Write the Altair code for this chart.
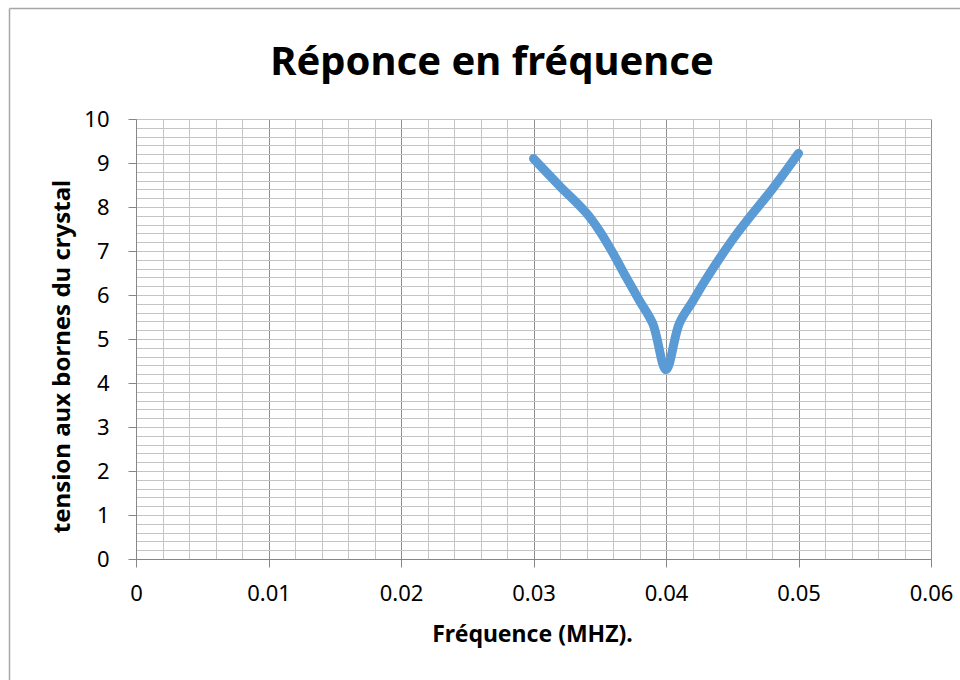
import altair as alt
import pandas as pd

# Data
freq = [0.030, 0.032, 0.034, 0.035, 0.036, 0.037, 0.038, 0.039, 0.040,
        0.041, 0.042, 0.043, 0.045, 0.046, 0.048, 0.050]
tension = [9.10, 8.47, 7.86, 7.45, 6.95, 6.40, 5.87, 5.35, 4.30,
           5.35, 5.85, 6.35, 7.25, 7.65, 8.40, 9.22]

major_x = [0, 0.01, 0.02, 0.03, 0.04, 0.05, 0.06]
major_y = [0, 1, 2, 3, 4, 5, 6, 7, 8, 9, 10]
minor_x = [round(i * 0.002, 4) for i in range(31)]
minor_y = [round(i * 0.2, 2) for i in range(51)]

title_text = ["Réponce en fréquence"]

df = pd.DataFrame({"f": freq, "v": tension})
one = pd.DataFrame({"a": [0]})
tdf = pd.DataFrame({"t": title_text})

xs = alt.Scale(domain=[0, 0.06], nice=False, zero=False)
ys = alt.Scale(domain=[0, 10], nice=False, zero=False)

FONT = "Noto Sans"
MINOR = "#c4c4c4"
MAJOR = "#8f8f8f"
AXIS = "#868686"

minor = alt.Chart(df).mark_line(opacity=0).encode(
    x=alt.X("f:Q", scale=xs, axis=alt.Axis(
        values=minor_x, grid=True, gridColor=MINOR, gridWidth=1,
        labels=False, ticks=False, domain=False, title=None, orient="top")),
    y=alt.Y("v:Q", scale=ys, axis=alt.Axis(
        values=minor_y, grid=True, gridColor=MINOR, gridWidth=1,
        labels=False, ticks=False, domain=False, title=None, orient="right")),
)

main = alt.Chart(df).mark_line(
    color="#5B9BD5", strokeWidth=9, interpolate="catmull-rom",
    strokeCap="round", strokeJoin="round"
).encode(
    x=alt.X("f:Q", scale=xs, axis=alt.Axis(
        values=major_x, grid=True, gridColor=MAJOR, gridWidth=1,
        format=".2~f", labelFont=FONT, labelFontSize=22, labelColor="#000000",
        labelPadding=16, tickSize=8, tickColor=AXIS, domainColor=AXIS,
        labelFlush=False, labelOverlap=False,
        title="Fréquence (MHZ).", titleFont=FONT, titleFontSize=23,
        titleFontWeight="bold", titleColor="#000000",
        titleX=396, titleY=75, titleBaseline="middle", orient="bottom")),
    y=alt.Y("v:Q", scale=ys, axis=alt.Axis(
        values=major_y, grid=False, format="d",
        labelFont=FONT, labelFontSize=22, labelColor="#000000",
        labelPadding=19, tickSize=8, tickColor=AXIS, domainColor=AXIS,
        labelFlush=False, labelOverlap=False,
        title="tension aux bornes du crystal", titleFont=FONT, titleFontSize=24,
        titleFontWeight="bold", titleColor="#000000",
        titleX=-74, titleY=237, titleBaseline="middle", titleAngle=270,
        orient="left")),
)

title = alt.Chart(tdf).mark_text(
    font=FONT, fontSize=40, fontWeight="bold", color="#000000",
    align="center", baseline="alphabetic"
).encode(text="t:N", x=alt.value(356), y=alt.value(-44))

frame_left = alt.Chart(one).mark_rule(color="#a6a6a6", strokeWidth=1.5).encode(
    x=alt.value(-126.5), y=alt.value(-110.5), y2=alt.value(600))
frame_top = alt.Chart(one).mark_rule(color="#a6a6a6", strokeWidth=1.5).encode(
    x=alt.value(-126.5), x2=alt.value(900), y=alt.value(-110.5))

chart = alt.layer(minor, main, title, frame_left, frame_top).resolve_axis(
    x="independent", y="independent"
).properties(
    width=795, height=440,
    autosize="none",
    padding={"left": 136, "top": 119, "right": 29, "bottom": 121},
    background="white",
).configure_view(stroke=None)

chart.save("out.html", embed_options={"renderer": "svg", "actions": False})
